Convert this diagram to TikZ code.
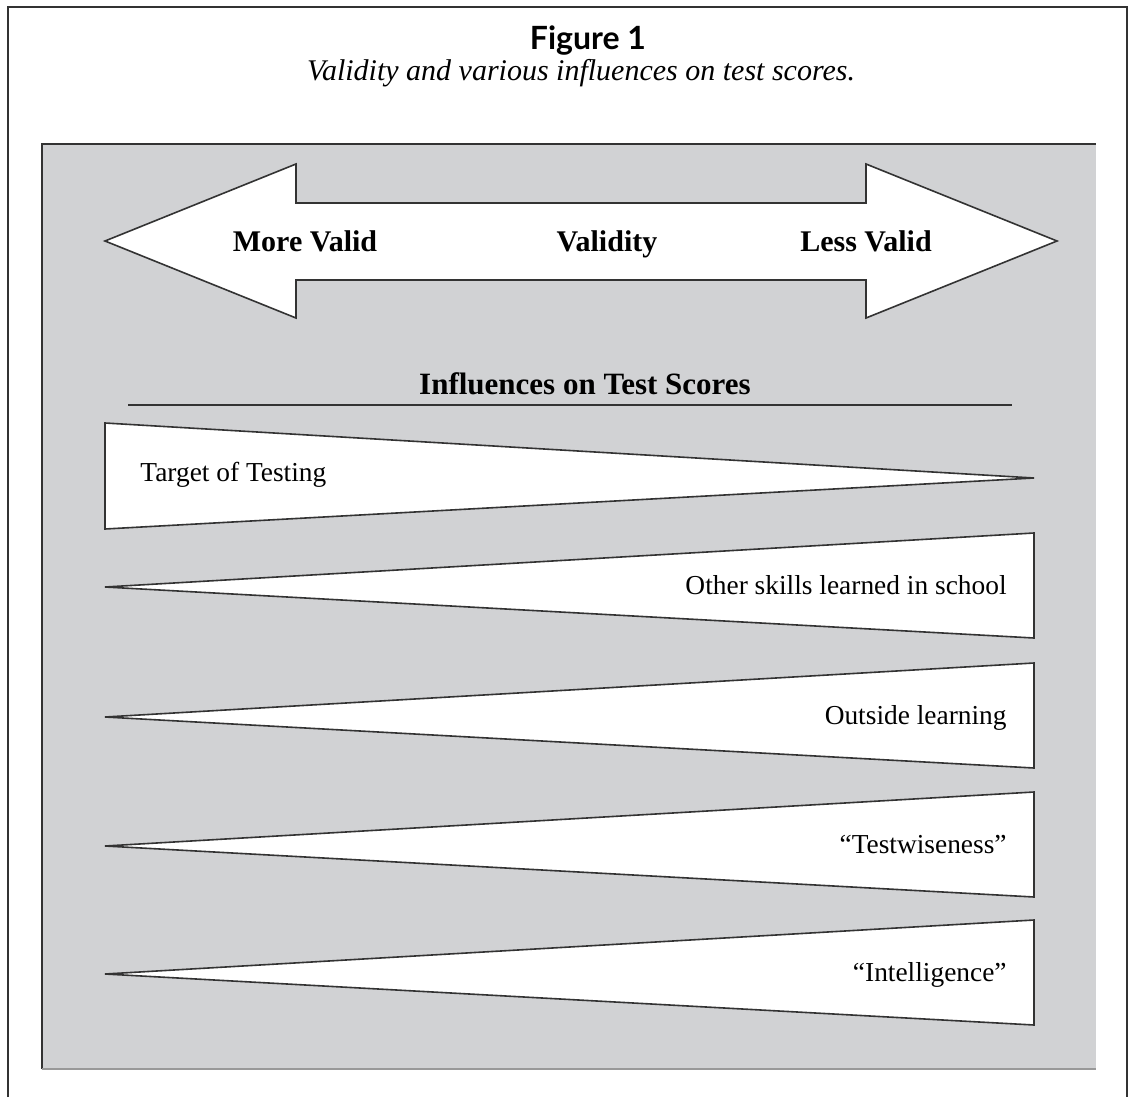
\documentclass[tikz,border=0pt]{standalone}
\usepackage{fontspec}
\setmainfont{Liberation Serif}
\newfontfamily\figfont{Lato}
\definecolor{panelgray}{HTML}{D1D2D4}
\definecolor{linegray}{HTML}{333333}
\begin{document}
\begin{tikzpicture}[x=0.5pt,y=-0.5pt,
    wedge/.style={draw=linegray,line width=0.8pt,fill=white,line join=miter},
    boldlabel/.style={font=\fontsize{15}{18}\selectfont\bfseries,text height=1.6ex,text depth=0.3ex},
    wedgelabel/.style={font=\fontsize{13.7}{16}\selectfont,inner sep=0pt,text height=1.6ex,text depth=0.3ex}]
    \useasboundingbox (0,0) rectangle (1134,1097);
    % frame and caption
    \draw[linegray,line width=0.7pt] (8,1097) -- (8,7) -- (1127,7) -- (1127,1097);
    \node (fig) at (588,41) {\figfont\fontsize{16}{19}\selectfont\bfseries Figure 1};
    \node (cap) at (581,73) {\fontsize{15}{18}\selectfont\itshape Validity and various influences on test scores.};
    % gray panel
    \fill[panelgray] (42,144) rectangle (1096,1069);
    \draw[linegray,line width=0.7pt] (42,1069) -- (42,144) -- (1096,144);
    \draw[gray!80,line width=0.7pt] (42,1069) -- (1096,1069);
    % validity arrow
    \draw[wedge] (105,241) -- (296,164) -- (296,203) -- (866,203) -- (866,164) -- (1057,241)
        -- (866,318) -- (866,280) -- (296,280) -- (296,318) -- cycle;
    \node[boldlabel] (more) at (305,246) {More Valid};
    \node[boldlabel] (validity) at (607,246) {Validity};
    \node[boldlabel] (less) at (866,246) {Less Valid};
    % influences
    \node[font=\fontsize{15.5}{18}\selectfont\bfseries] (infl) at (585,384) {Influences on Test Scores};
    \draw[linegray,line width=0.7pt] (128,405) -- (1012,405);
    \draw[wedge] (105,423) -- (1034,478) -- (105,529) -- cycle;
    \node[wedgelabel,anchor=west] (target) at (140,476) {Target of Testing};
    \foreach \y/\txt [count=\i] in {587/Other skills learned in school, 717/Outside learning,
        846/“Testwiseness”, 974/“Intelligence”} {
        \draw[wedge] (105,\y) -- (1034,\y-54) -- (1034,\y+51) -- cycle;
        \node[wedgelabel,anchor=east] (infl\i) at (1007,\y+2) {\txt};
    }
\end{tikzpicture}
\end{document}
